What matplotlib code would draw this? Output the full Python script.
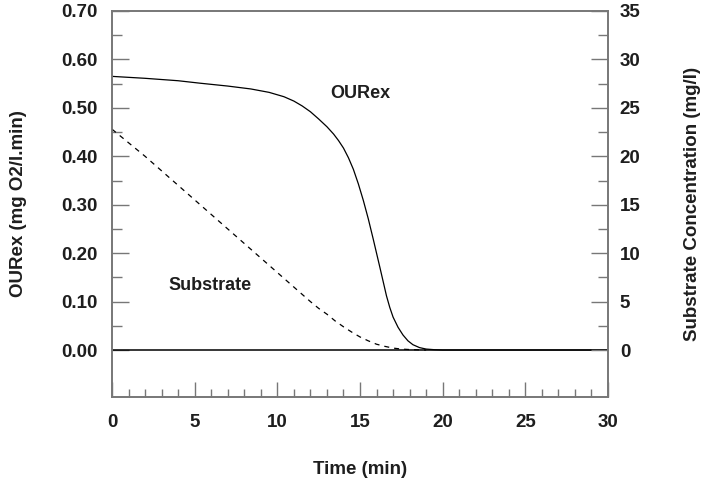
import matplotlib
matplotlib.use("Agg")
import matplotlib.pyplot as plt
from matplotlib.ticker import MultipleLocator, FixedLocator

plt.rcParams['font.family'] = ['Liberation Sans', 'DejaVu Sans']
plt.rcParams['font.weight'] = 'bold'

# OURex (time in min, mg O2/l.min)
our_t = [0, 2, 4, 5.3, 7, 8.4, 9.5, 10.4, 11.0, 11.5, 12.0, 12.5, 13.0, 13.4,
         13.7, 14.0, 14.3, 14.6, 14.9, 15.2, 15.5, 15.8, 16.2, 16.6, 16.8, 17.0,
         17.3, 17.6, 17.9, 18.2, 18.6, 19.0, 19.5, 20, 30]
our_v = [0.565, 0.561, 0.556, 0.551, 0.545, 0.539, 0.532, 0.523, 0.514, 0.504,
         0.492, 0.477, 0.461, 0.446, 0.4325, 0.417, 0.397, 0.373, 0.343, 0.309,
         0.271, 0.229, 0.171, 0.112, 0.088, 0.068, 0.047, 0.031, 0.019, 0.011,
         0.005, 0.002, 0.0007, 0.0, 0.0]

# substrate concentration (mg/l)
sub_t = [0, 1, 2, 3, 4, 5, 6, 7, 8, 9, 10, 11, 12, 12.5, 13, 13.5, 14, 14.5,
         15, 15.5, 16, 16.5, 17, 17.5, 18, 19]
sub_v = [22.8, 21.4, 20.0, 18.5, 17.0, 15.5, 14.0, 12.5, 11.0, 9.5, 8.0, 6.5,
         5.0, 4.3, 3.7, 3.0, 2.4, 1.85, 1.35, 0.95, 0.6, 0.38, 0.2, 0.1, 0.05, 0.0]

left_ticks = [0.0, 0.1, 0.2, 0.3, 0.4, 0.5, 0.6, 0.7]
right_ticks = [0, 5, 10, 15, 20, 25, 30, 35]
x_ticks = [0, 5, 10, 15, 20, 25, 30]

gray = '#777777'
txt = '#1e1e1e'

fig = plt.figure(figsize=(7.03, 4.86), dpi=100)
ax = fig.add_axes([0.1593, 0.1831, 0.7056, 0.7943])
ax2 = ax.twinx()

ax.set_xlim(0, 30)
ax.set_ylim(-0.097, 0.70)
ax2.set_ylim(-0.097 * 50, 35)

ax.axhline(0, color='black', lw=1.1)
ax.plot(our_t, our_v, color='black', lw=0.9)
ax2.plot(sub_t, sub_v, color='black', lw=0.9, ls=(0, (4, 4)))

ax.text(13.2, 0.529, 'OURex', fontsize=13, fontweight='bold', va='center', color=txt)
ax.text(3.4, 0.134, 'Substrate', fontsize=13, fontweight='bold', va='center', color=txt)

ax.yaxis.set_major_locator(FixedLocator(left_ticks))
ax.yaxis.set_minor_locator(FixedLocator([v + 0.05 for v in left_ticks[:-1]]))
ax.set_yticklabels([f'{v:.2f}' for v in left_ticks])
ax2.yaxis.set_major_locator(FixedLocator(right_ticks))
ax2.yaxis.set_minor_locator(FixedLocator([v + 2.5 for v in right_ticks[:-1]]))
ax2.set_yticklabels([str(v) for v in right_ticks])
ax.xaxis.set_major_locator(FixedLocator(x_ticks))
ax.xaxis.set_minor_locator(MultipleLocator(1))

for a in (ax, ax2):
    for s in a.spines.values():
        s.set_color(gray)
        s.set_linewidth(1.2)

ax.tick_params(axis='both', which='both', direction='in', color=gray, width=1.0,
               labelsize=13.5, top=False, right=False)
ax.tick_params(axis='y', which='major', length=12, pad=10)
ax.tick_params(axis='y', which='minor', length=7)
ax.tick_params(axis='x', which='major', length=11, pad=12)
ax.tick_params(axis='x', which='minor', length=6)
ax2.tick_params(axis='y', which='both', direction='in', color=gray, width=1.0,
                labelsize=13.5)
ax2.tick_params(axis='y', which='major', length=12, pad=8.5)
ax2.tick_params(axis='y', which='minor', length=7)

for lab in ax.get_xticklabels() + ax.get_yticklabels() + ax2.get_yticklabels():
    lab.set_fontweight('bold')
    lab.set_color(txt)

ax.set_xlabel('Time (min)', fontsize=13.5, fontweight='bold', color=txt)
ax.set_ylabel('OURex (mg O2/l.min)', fontsize=13.5, fontweight='bold', color=txt)
ax2.set_ylabel('Substrate Concentration (mg/l)', fontsize=13.5, fontweight='bold',
               color=txt)
ax.xaxis.set_label_coords(0.5, -0.166)
ax.yaxis.set_label_coords(-0.171, 0.5)
ax2.yaxis.set_label_coords(1.153, 0.5)

fig.savefig('out.png', dpi=100)
